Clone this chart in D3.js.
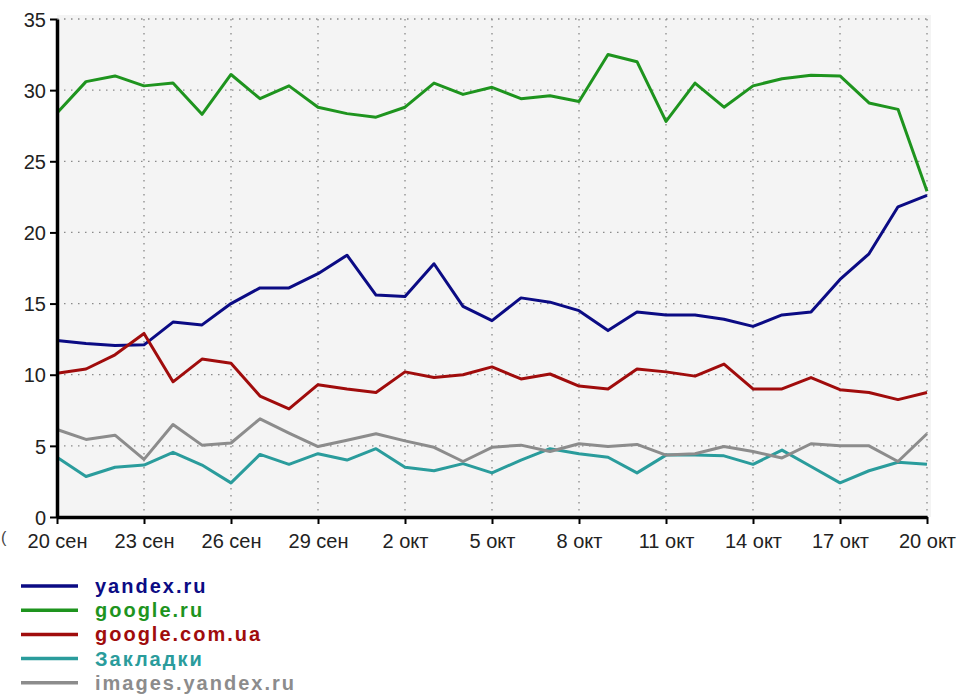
<!DOCTYPE html>
<html>
  <head>
    <meta charset="utf-8">
    <script src="https://d3js.org/d3.v7.min.js"></script>
    <style>
      body { margin: 0; background: #fff; }
      .tick text { font-family: "Liberation Sans", Arial, sans-serif; font-size: 20px; fill: #222; }
      .legend text { font-family: "Liberation Sans", Arial, sans-serif; font-size: 20px; font-weight: bold; letter-spacing: 2px; }
    </style>
  </head>
  <body>
    <div id="chart"></div>
    <script>
      // days 20 Sep .. 20 Oct
      const days = d3.range(31);
      const tickDays = [0, 3, 6, 9, 12, 15, 18, 21, 24, 27, 30];
      const tickLabels = ["20 сен", "23 сен", "26 сен", "29 сен", "2 окт", "5 окт", "8 окт", "11 окт", "14 окт", "17 окт", "20 окт"];
      const yTicks = [0, 5, 10, 15, 20, 25, 30, 35];

      const seriesNames = ["yandex.ru", "google.ru", "google.com.ua", "Закладки", "images.yandex.ru"];
      const seriesColors = ["#0b0b84", "#1e941e", "#a00c0c", "#2a9c9c", "#8c8c8c"];

      const yandex = [12.4, 12.2, 12.05, 12.1, 13.7, 13.5, 15.0, 16.1, 16.1, 17.1,
        18.4, 15.6, 15.5, 17.8, 14.8, 13.8, 15.4, 15.1, 14.5, 13.1,
        14.4, 14.2, 14.2, 13.9, 13.4, 14.2, 14.4, 16.7, 18.5, 21.8, 22.6];
      const googleRu = [28.4, 30.6, 31.0, 30.3, 30.5, 28.3, 31.1, 29.4, 30.3, 28.8,
        28.35, 28.1, 28.8, 30.5, 29.7, 30.2, 29.4, 29.6, 29.2, 32.5,
        32.0, 27.8, 30.5, 28.8, 30.3, 30.8, 31.05, 31.0, 29.1, 28.65, 22.9];
      const googleUa = [10.1, 10.4, 11.4, 12.9, 9.5, 11.1, 10.8, 8.5, 7.6, 9.3,
        9.0, 8.75, 10.2, 9.8, 10.0, 10.55, 9.7, 10.05, 9.2, 9.0,
        10.4, 10.2, 9.9, 10.75, 9.0, 9.0, 9.8, 8.95, 8.75, 8.25, 8.75];
      const zakladki = [4.2, 2.85, 3.5, 3.65, 4.55, 3.65, 2.4, 4.4, 3.7, 4.45,
        4.0, 4.8, 3.5, 3.25, 3.75, 3.1, 4.0, 4.8, 4.45, 4.2,
        3.1, 4.35, 4.35, 4.3, 3.7, 4.7, 3.55, 2.4, 3.25, 3.85, 3.7];
      const images = [6.15, 5.45, 5.75, 4.05, 6.5, 5.05, 5.2, 6.9, 5.9, 4.95,
        5.4, 5.85, 5.35, 4.9, 3.9, 4.9, 5.05, 4.6, 5.15, 4.95,
        5.1, 4.35, 4.45, 4.95, 4.6, 4.15, 5.15, 5.0, 5.0, 3.9, 5.85];
      const seriesValues = [yandex, googleRu, googleUa, zakladki, images];

      const W = 957, H = 696;
      const margin = { top: 19, right: 30, bottom: 179, left: 57 };
      const width = W - margin.left - margin.right;
      const height = H - margin.top - margin.bottom;

      const root = d3.select("#chart").append("svg")
        .attr("width", W).attr("height", H);
      const svg = root.append("g")
        .attr("transform", `translate(${margin.left}, ${margin.top})`);

      const x = d3.scaleLinear().domain([0, 30]).range([0, width]);
      const y = d3.scaleLinear().domain([0, 35]).range([height, 0]);

      // plot background
      svg.append("rect")
        .attr("x", 0).attr("y", -4)
        .attr("width", width + 4).attr("height", height + 4)
        .attr("fill", "#f4f4f4");

      // dotted grid
      svg.append("g").selectAll("line").data(yTicks.slice(1)).join("line")
        .attr("x1", 0).attr("x2", width)
        .attr("y1", d => y(d)).attr("y2", d => y(d))
        .attr("stroke", "#8a8a8a").attr("stroke-width", 1.3)
        .attr("stroke-dasharray", "1.5,5.5");
      svg.append("g").selectAll("line").data(tickDays.slice(1)).join("line")
        .attr("x1", d => x(d)).attr("x2", d => x(d))
        .attr("y1", 0).attr("y2", height)
        .attr("stroke", "#8a8a8a").attr("stroke-width", 1.3)
        .attr("stroke-dasharray", "1.5,5.5");

      // lines
      const line = d3.line().x((d, i) => x(days[i])).y(d => y(d));
      seriesValues.forEach((vals, k) => {
        svg.append("path")
          .datum(vals)
          .attr("fill", "none")
          .attr("stroke", seriesColors[k])
          .attr("stroke-width", 3)
          .attr("stroke-linejoin", "round")
          .attr("d", line);
      });

      // axes
      const xAxis = svg.append("g")
        .attr("transform", `translate(0, ${height})`)
        .call(d3.axisBottom(x).tickValues(tickDays)
          .tickFormat((d, i) => tickLabels[i]).tickSize(7).tickSizeOuter(0).tickPadding(10));
      const yAxis = svg.append("g")
        .call(d3.axisLeft(y).tickValues(yTicks).tickSize(7).tickSizeOuter(0).tickPadding(4));
      [xAxis, yAxis].forEach(a => {
        a.select(".domain").attr("stroke", "#000").attr("stroke-width", 3.5);
        a.selectAll(".tick line").attr("stroke", "#000").attr("stroke-width", 2);
      });
      yAxis.selectAll(".tick text").attr("dy", "0.36em");

      // small bracket mark at the left edge
      root.append("text")
        .attr("x", 1).attr("y", 543)
        .style("font-family", "Liberation Sans, Arial, sans-serif")
        .style("font-size", "16px").attr("fill", "#444")
        .text("(");

      // legend
      const legend = root.append("g").attr("class", "legend");
      seriesNames.forEach((name, k) => {
        const ly = 586 + k * 24.2;
        legend.append("line")
          .attr("x1", 21).attr("x2", 78)
          .attr("y1", ly).attr("y2", ly)
          .attr("stroke", seriesColors[k]).attr("stroke-width", 3.5);
        legend.append("text")
          .attr("x", 95).attr("y", ly + 7)
          .attr("fill", seriesColors[k])
          .text(name);
      });
    </script>
  </body>
</html>
